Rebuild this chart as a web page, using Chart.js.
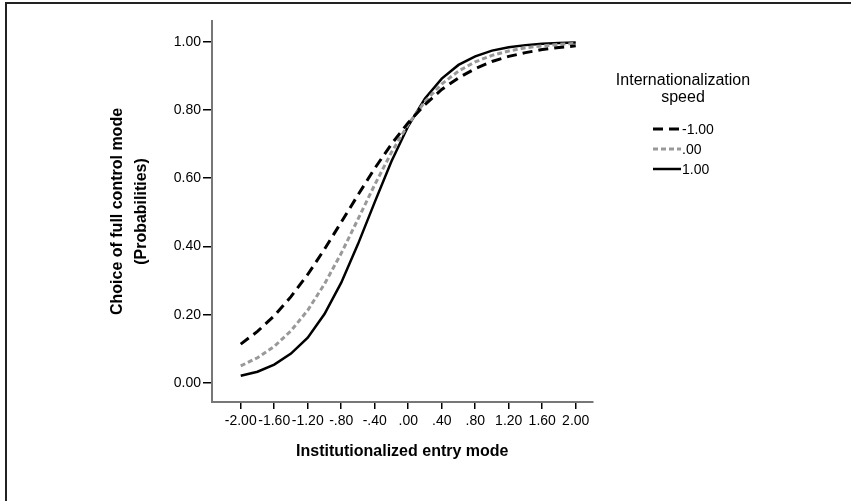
<!DOCTYPE html>
<html>
<head>
<meta charset="utf-8">
<script src="https://cdn.jsdelivr.net/npm/chart.js@4.4.1/dist/chart.umd.min.js"></script>
<style>
  html, body { margin: 0; padding: 0; background: #fff; }
  #wrap { position: relative; width: 856px; height: 501px; }
</style>
</head>
<body>
<div id="wrap"><canvas id="chart" width="856" height="501"></canvas></div>
<script>
// x positions of the plotted points
const xValues = [-2.0, -1.8, -1.6, -1.4, -1.2, -1.0, -0.8, -0.6, -0.4, -0.2, 0.0,
                 0.2, 0.4, 0.6, 0.8, 1.0, 1.2, 1.4, 1.6, 1.8, 2.0];

// internationalization speed = -1.00
const speedLow = [0.114, 0.151, 0.197, 0.253, 0.318, 0.392, 0.471, 0.551, 0.629, 0.700, 0.763,
                  0.816, 0.860, 0.894, 0.921, 0.942, 0.957, 0.968, 0.977, 0.983, 0.988];
// internationalization speed = .00
const speedMid = [0.050, 0.074, 0.107, 0.153, 0.213, 0.290, 0.380, 0.480, 0.581, 0.676, 0.758,
                  0.825, 0.876, 0.914, 0.941, 0.960, 0.973, 0.982, 0.988, 0.992, 0.995];
// internationalization speed = 1.00
const speedHigh = [0.021, 0.033, 0.054, 0.086, 0.133, 0.202, 0.294, 0.407, 0.530, 0.650, 0.753,
                   0.834, 0.892, 0.932, 0.957, 0.974, 0.984, 0.990, 0.994, 0.996, 0.998];

const seriesNames = ['-1.00', '.00', '1.00'];
const legendTitle = ['Internationalization', 'speed'];

const xTicks = [-2.0, -1.6, -1.2, -0.8, -0.4, 0.0, 0.4, 0.8, 1.2, 1.6, 2.0];
const xTickLabels = ['-2.00', '-1.60', '-1.20', '-.80', '-.40', '.00', '.40', '.80', '1.20', '1.60', '2.00'];
const yTicks = [0.0, 0.2, 0.4, 0.6, 0.8, 1.0];
const yTickLabels = ['0.00', '0.20', '0.40', '0.60', '0.80', '1.00'];

const xTitle = 'Institutionalized entry mode';
const yTitle = ['Choice of full control mode', '(Probabilities)'];

const FONT = "'Liberation Sans', Arial, sans-serif";

function toPoints(ys) {
  return xValues.map((x, i) => ({ x: x, y: ys[i] }));
}

// frame around the picture
const framePlugin = {
  id: 'frame',
  beforeDraw(chart) {
    const c = chart.ctx;
    c.save();
    c.fillStyle = '#fff';
    c.fillRect(0, 0, chart.width, chart.height);
    c.strokeStyle = '#222';
    c.lineWidth = 2;
    c.beginPath();
    c.moveTo(6, chart.height);
    c.lineTo(6, 3);
    c.lineTo(851, 3);
    c.stroke();
    c.restore();
  }
};

// axis titles and legend, placed like the SPSS output
const labelsPlugin = {
  id: 'labels',
  afterDraw(chart) {
    const c = chart.ctx;
    const area = chart.chartArea;
    c.save();
    c.fillStyle = '#000';

    // x title
    c.font = 'bold 16px ' + FONT;
    c.textAlign = 'center';
    c.textBaseline = 'middle';
    c.fillText(xTitle, (area.left + area.right) / 2, 452);

    // y title (two lines, rotated)
    const cy = (area.top + area.bottom) / 2;
    c.save();
    c.translate(118, cy);
    c.rotate(-Math.PI / 2);
    c.fillText(yTitle[0], 0, 0);
    c.fillText(yTitle[1], 0, 24);
    c.restore();

    // legend title
    c.font = '16px ' + FONT;
    c.textAlign = 'center';
    c.fillText(legendTitle[0], 683, 81);
    c.fillText(legendTitle[1], 683, 98);

    // legend rows
    c.font = '14px ' + FONT;
    const rowsY = [129, 149, 169];
    chart.data.datasets.forEach((ds, i) => {
      c.save();
      c.strokeStyle = ds.borderColor;
      c.lineWidth = ds.borderWidth;
      c.setLineDash(ds.borderDash || []);
      c.beginPath();
      c.moveTo(653, rowsY[i]);
      c.lineTo(681, rowsY[i]);
      c.stroke();
      c.restore();
      c.textAlign = 'left';
      c.fillText(seriesNames[i], 682, rowsY[i] + 1);
    });
    c.restore();
  }
};

const ctx = document.getElementById('chart').getContext('2d');
const myChart = new Chart(ctx, {
  type: 'line',
  data: {
    datasets: [
      {
        label: seriesNames[0],
        data: toPoints(speedLow),
        borderColor: '#000',
        borderWidth: 3,
        borderDash: [10, 6],
        pointRadius: 0,
        fill: false,
        tension: 0
      },
      {
        label: seriesNames[1],
        data: toPoints(speedMid),
        borderColor: '#999',
        borderWidth: 3,
        borderDash: [5, 3],
        pointRadius: 0,
        fill: false,
        tension: 0
      },
      {
        label: seriesNames[2],
        data: toPoints(speedHigh),
        borderColor: '#000',
        borderWidth: 2.5,
        pointRadius: 0,
        fill: false,
        tension: 0
      }
    ]
  },
  options: {
    responsive: false,
    animation: false,
    devicePixelRatio: 1,
    layout: { padding: { top: 21, right: 263.5, left: 0, bottom: 0 } },
    plugins: {
      legend: { display: false },
      tooltip: { enabled: false }
    },
    scales: {
      x: {
        type: 'linear',
        min: -2.343,
        max: 2.2,
        afterFit(scale) { scale.height = 99; },
        afterBuildTicks(scale) { scale.ticks = xTicks.map(v => ({ value: v })); },
        ticks: {
          color: '#000',
          font: { family: FONT, size: 14 },
          padding: 4,
          maxRotation: 0,
          autoSkip: false,
          callback: (v, i) => xTickLabels[i]
        },
        grid: { drawOnChartArea: false, drawTicks: true, tickLength: 7, color: '#000', lineWidth: 1.5 },
        border: { color: '#777', width: 2 }
      },
      y: {
        min: -0.0557,
        max: 1.0607,
        afterFit(scale) { scale.width = 212; },
        afterBuildTicks(scale) { scale.ticks = yTicks.map(v => ({ value: v })); },
        ticks: {
          color: '#000',
          font: { family: FONT, size: 14 },
          padding: 2,
          autoSkip: false,
          callback: (v, i) => yTickLabels[i]
        },
        grid: { drawOnChartArea: false, drawTicks: true, tickLength: 9, color: '#000', lineWidth: 1.5 },
        border: { color: '#777', width: 2 }
      }
    }
  },
  plugins: [framePlugin, labelsPlugin]
});
</script>
</body>
</html>
